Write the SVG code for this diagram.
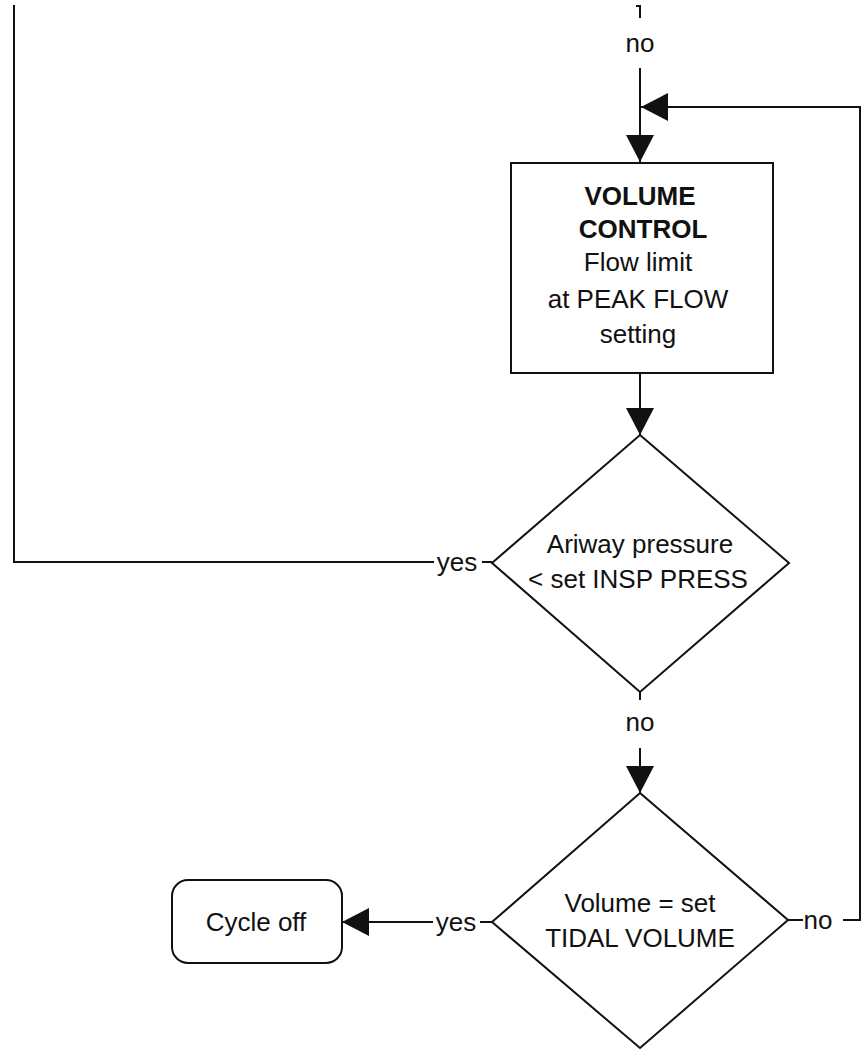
<svg xmlns="http://www.w3.org/2000/svg" width="864" height="1053" viewBox="0 0 864 1053">
  <style>
    .shape { fill: #ffffff; stroke: #111111; stroke-width: 2; }
    .wire { fill: none; stroke: #111111; stroke-width: 2; }
    .txt { font-family: "Liberation Sans", Arial, sans-serif; font-size: 26px; fill: #111111; text-anchor: middle; }
    .bold { font-weight: bold; }
  </style>
  <defs>
    <marker id="arrow" markerUnits="userSpaceOnUse" markerWidth="28" markerHeight="28" refX="27" refY="14" orient="auto">
      <path d="M0,0 L27,14 L0,28 Z" fill="#111111"/>
    </marker>
  </defs>
  <rect width="864" height="1053" fill="#ffffff"/>

  <!-- connectors -->
  <g id="connectors">
    <!-- incoming flow from above -->
    <path class="wire" d="M636,6 H640 V18"/>
    <text class="txt" x="640" y="52">no</text>
    <path class="wire" d="M640,68 V162" marker-end="url(#arrow)"/>
    <!-- repeat loop from tidal volume check -->
    <path class="wire" d="M843,920 H860 V107 H641" marker-end="url(#arrow)"/>
    <!-- volume control to pressure check -->
    <path class="wire" d="M640,373 V435" marker-end="url(#arrow)"/>
    <!-- pressure below setting: back to the start -->
    <path class="wire" d="M492,562 H482"/>
    <text class="txt" x="457" y="571">yes</text>
    <path class="wire" d="M434,562 H14 V5"/>
    <!-- pressure reached: check tidal volume -->
    <path class="wire" d="M640,692 V700"/>
    <text class="txt" x="640" y="731">no</text>
    <path class="wire" d="M640,748 V793" marker-end="url(#arrow)"/>
    <!-- tidal volume reached -->
    <path class="wire" d="M492,922 H480"/>
    <text class="txt" x="456" y="931">yes</text>
    <path class="wire" d="M433,922 H342" marker-end="url(#arrow)"/>
    <!-- tidal volume not reached -->
    <path class="wire" d="M788,920 H803"/>
    <text class="txt" x="818" y="929">no</text>
  </g>

  <g id="volume-control">
    <rect class="shape" x="511" y="163" width="262" height="210"/>
    <text class="txt bold" x="640" y="205">VOLUME</text>
    <text class="txt bold" x="643" y="238">CONTROL</text>
    <text class="txt" x="638" y="271">Flow limit</text>
    <text class="txt" x="638" y="308">at PEAK FLOW</text>
    <text class="txt" x="638" y="343">setting</text>
  </g>

  <g id="pressure-check">
    <polygon class="shape" points="640,435 789,563 640,692 492,563"/>
    <text class="txt" x="640" y="553">Ariway pressure</text>
    <text class="txt" x="638" y="588">&lt; set INSP PRESS</text>
  </g>

  <g id="volume-check">
    <polygon class="shape" points="640,793 788,920 640,1048 492,922"/>
    <text class="txt" x="640" y="912">Volume = set</text>
    <text class="txt" x="640" y="947">TIDAL VOLUME</text>
  </g>

  <g id="cycle-off">
    <rect class="shape" x="172" y="880" width="170" height="83" rx="16" ry="16"/>
    <text class="txt" x="256" y="931">Cycle off</text>
  </g>
</svg>
